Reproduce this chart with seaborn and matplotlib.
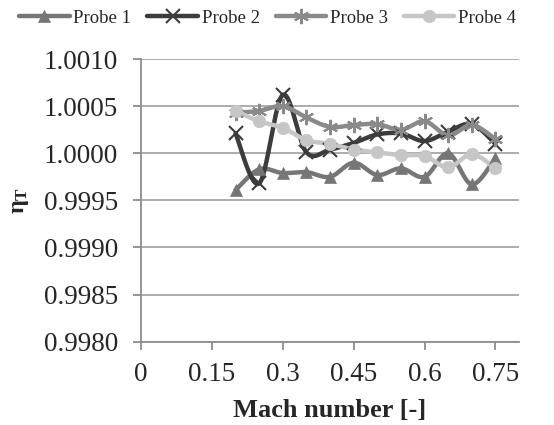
import numpy as np
import pandas as pd
import matplotlib
matplotlib.use("Agg")
import matplotlib.pyplot as plt
import seaborn as sns
from matplotlib.lines import Line2D

mach = [0.20, 0.25, 0.30, 0.35, 0.40, 0.45, 0.50, 0.55, 0.60, 0.65, 0.70, 0.75]
probe1 = [0.99961, 0.99983, 0.99979, 0.99980, 0.99975, 0.99990, 0.99977, 0.99984, 0.99975, 1.00000, 0.99967, 0.99995]
probe2 = [1.00021, 0.99968, 1.00062, 1.00001, 1.00004, 1.00011, 1.00020, 1.00021, 1.00013, 1.00023, 1.00031, 1.00010]
probe3 = [1.00043, 1.00045, 1.00050, 1.00038, 1.00028, 1.00030, 1.00031, 1.00025, 1.00034, 1.00019, 1.00030, 1.00015]
probe4 = [1.00045, 1.00034, 1.00027, 1.00014, 1.00010, 1.00004, 1.00001, 0.99998, 0.99997, 0.99985, 0.99999, 0.99984]
series_names = ["Probe 1", "Probe 2", "Probe 3", "Probe 4"]
x_ticks = [0, 0.15, 0.3, 0.45, 0.6, 0.75]
x_tick_labels = ["0", "0.15", "0.3", "0.45", "0.6", "0.75"]
y_ticks = [0.9980, 0.9985, 0.9990, 0.9995, 1.0000, 1.0005, 1.0010]

colors = ["#767676", "#3c3c3c", "#8a8a8a", "#c6c6c6"]
markers = ["^", "x", (6, 2, 0), "o"]
msizes = [9, 10, 11, 9]


def smooth(x, y, n=24):
    """Catmull-Rom style smoothing of the drawn line (like Excel's smoothed line)."""
    x = np.asarray(x, float)
    y = np.asarray(y, float)
    px = np.concatenate([[x[0]], x, [x[-1]]])
    py = np.concatenate([[y[0]], y, [y[-1]]])
    xs, ys = [], []
    for i in range(1, len(px) - 2):
        p0 = np.array([px[i - 1], py[i - 1]])
        p1 = np.array([px[i], py[i]])
        p2 = np.array([px[i + 1], py[i + 1]])
        p3 = np.array([px[i + 2], py[i + 2]])
        c1 = p1 + (p2 - p0) / 6.0
        c2 = p2 - (p3 - p1) / 6.0
        t = np.linspace(0, 1, n)[:, None]
        b = ((1 - t) ** 3) * p1 + 3 * ((1 - t) ** 2) * t * c1 + 3 * (1 - t) * t ** 2 * c2 + t ** 3 * p2
        xs.append(b[:, 0])
        ys.append(b[:, 1])
    return np.concatenate(xs), np.concatenate(ys)


sns.set_theme(style="white")
plt.rcParams["font.family"] = ["Liberation Serif", "DejaVu Serif"]
plt.rcParams["mathtext.fontset"] = "custom"
plt.rcParams["mathtext.rm"] = "Liberation Serif"
plt.rcParams["mathtext.it"] = "Liberation Serif:italic"
plt.rcParams["mathtext.bf"] = "Liberation Serif:bold"

fig = plt.figure(figsize=(5.54, 4.25), dpi=100)
ax = fig.add_axes([0.2545, 0.196, 0.6825, 0.665])

all_series = [probe1, probe2, probe3, probe4]
handles = []
for name, vals, c, m, ms in zip(series_names, all_series, colors, markers, msizes):
    sx, sy = smooth(mach, vals)
    dfl = pd.DataFrame({"x": sx, "y": sy})
    sns.lineplot(data=dfl, x="x", y="y", ax=ax, color=c, lw=3.2, sort=False,
                 estimator=None, zorder=3)
    mew = 0.5 if m in ("o", "^") else 1.5
    ax.plot(mach, vals, ls="none", marker=m, ms=ms, color=c,
            mec=c, mew=mew, zorder=4)
    handles.append(Line2D([0], [0], color=c, lw=3.2, marker=m, ms=ms, mec=c, mew=mew))

ax.set_xlim(0, 0.8)
ax.set_ylim(0.9980, 1.0010)
ax.set_xticks(x_ticks)
ax.set_xticklabels(x_tick_labels)
ax.set_yticks(y_ticks)
ax.set_yticklabels([f"{v:.4f}" for v in y_ticks])
ax.grid(axis="y", color="#a6a6a6", lw=1.3)
ax.grid(axis="x", visible=False)
for s in ["top", "right"]:
    ax.spines[s].set_visible(False)
for s in ["left", "bottom"]:
    ax.spines[s].set_color("#8c8c8c")
    ax.spines[s].set_linewidth(1.3)
ax.tick_params(axis="both", which="major", direction="out", length=5.5, width=1.3,
               color="#8c8c8c", labelsize=19.5, left=True, bottom=True)
ax.tick_params(axis="y", pad=11)
ax.tick_params(axis="x", pad=9)
ax.set_xlabel("Mach number [-]", fontsize=19, fontweight="bold", labelpad=9)
ax.set_ylabel(r"$\mathbf{\eta_T}$", fontsize=17.5, labelpad=9)

fig.legend(handles, series_names, loc="center", bbox_to_anchor=(0.483, 0.957),
           ncol=4, frameon=False, fontsize=13.5, handlelength=2.7,
           handletextpad=0.2, columnspacing=0.85)

fig.savefig("out.png", dpi=100)
